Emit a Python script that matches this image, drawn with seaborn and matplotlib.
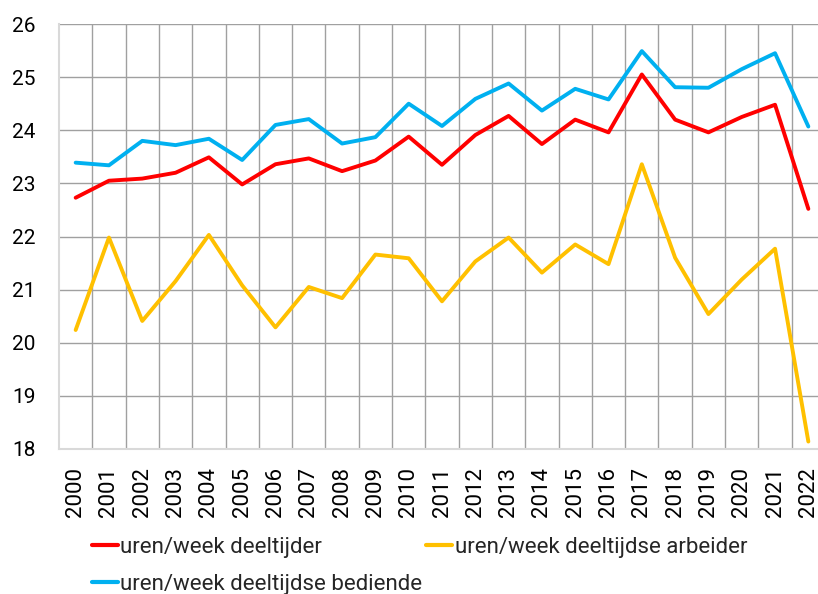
import matplotlib
matplotlib.use("Agg")
import matplotlib.pyplot as plt
import seaborn as sns
import pandas as pd
import numpy as np
from matplotlib.ticker import FixedLocator
from matplotlib.lines import Line2D

years = [str(y) for y in range(2000, 2023)]
deeltijder = [22.73, 23.05, 23.09, 23.20, 23.49, 22.98, 23.36, 23.47, 23.23, 23.43, 23.88,
              23.35, 23.91, 24.27, 23.74, 24.20, 23.96, 25.05, 24.20, 23.96, 24.25, 24.48, 22.52]
arbeider = [20.24, 21.98, 20.41, 21.16, 22.03, 21.08, 20.29, 21.05, 20.84, 21.66, 21.59,
            20.78, 21.53, 21.98, 21.32, 21.85, 21.48, 23.36, 21.60, 20.54, 21.19, 21.77, 18.14]
bediende = [23.39, 23.34, 23.80, 23.72, 23.84, 23.44, 24.10, 24.21, 23.75, 23.87, 24.50,
            24.08, 24.59, 24.88, 24.37, 24.78, 24.58, 25.49, 24.81, 24.80, 25.15, 25.45, 24.07]
labels = ["uren/week deeltijder", "uren/week deeltijdse arbeider", "uren/week deeltijdse bediende"]
colors = ["#FF0000", "#FFC000", "#00B0F0"]
yticks = [18, 19, 20, 21, 22, 23, 24, 25, 26]

sns.set_theme(style="white")
plt.rcParams['font.family'] = ['Roboto', 'DejaVu Sans']

pos = np.arange(len(years))
df = pd.DataFrame({"pos": np.tile(pos, 3),
                   "value": deeltijder + arbeider + bediende,
                   "series": np.repeat(labels, len(years))})

fig = plt.figure(figsize=(8.18, 5.94), dpi=100)
ax = fig.add_axes([59/818, 145/594, 766/818, 425/594])

sns.lineplot(data=df, x="pos", y="value", hue="series", hue_order=labels,
             palette=colors, linewidth=2.8, ax=ax, legend=False)

ax.set_xlim(-0.5, len(years) - 0.5)
ax.set_ylim(18, 26)
ax.set_yticks(yticks)
ax.set_yticklabels([str(t) for t in yticks], fontsize=15, color="black")
ax.set_xticks(pos)
ax.set_xticklabels(years, rotation=90, fontsize=16, color="black")
ax.xaxis.set_minor_locator(FixedLocator(pos[:-1] + 0.5))
ax.tick_params(axis="y", length=0, pad=17)
ax.tick_params(axis="x", which="both", length=0, pad=13)
ax.set_xlabel("")
ax.set_ylabel("")

ax.grid(False)
ax.yaxis.grid(True, color="#a0a0a0", linewidth=1.0)
ax.xaxis.grid(True, which="minor", color="#a0a0a0", linewidth=1.0)
ax.set_axisbelow(True)
for s in ["top", "right"]:
    ax.spines[s].set_visible(False)
for s in ["left", "bottom"]:
    ax.spines[s].set_color("#d9d9d9")
    ax.spines[s].set_linewidth(1.5)

handles = [Line2D([], [], color=c, linewidth=3) for c in colors]
order = [0, 2, 1]
fig.legend([handles[i] for i in order], [labels[i] for i in order],
           loc="upper left", bbox_to_anchor=(92/818, 1 - 537/594),
           ncol=2, frameon=False, fontsize=16, handlelength=1.17,
           handletextpad=0.1, columnspacing=0.18, labelspacing=0.72,
           borderpad=0, borderaxespad=0)

fig.savefig("out.png", dpi=100)
